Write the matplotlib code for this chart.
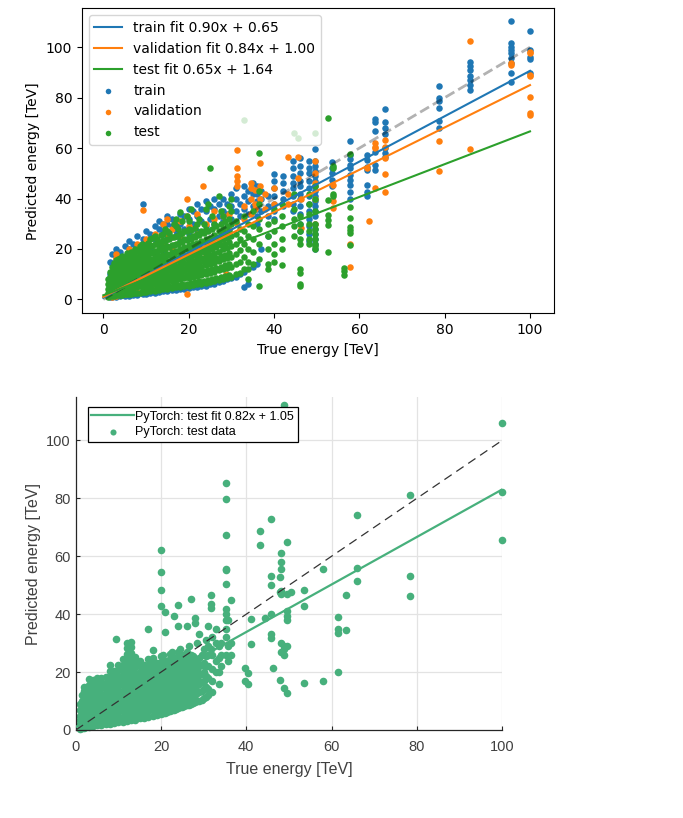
import matplotlib
matplotlib.use("Agg")
import matplotlib.pyplot as plt

# ---------------- top chart data ----------------
train_true = [1.5, 2, 3, 4, 5, 6, 7, 8, 9.3, 10, 11, 12, 13, 14, 15, 16, 17, 18, 19, 20,
              21, 22, 23, 24, 25, 26, 27, 28, 29, 30, 31, 32, 33, 34, 35, 36, 37, 38.5, 40, 42,
              44.5, 46, 48.2, 49.7, 53.5, 57.7, 61.7, 63.7, 66, 78.6, 86, 95.6, 100]
train_pred = [
    [0.8, 5, 10, 15], [0.9, 8, 14, 18], [1, 11, 17, 20], [1.2, 13, 19], [1.3, 10, 16, 21],
    [1.5, 12, 20, 23], [1.7, 15, 22], [1.9, 14, 21, 25], [2.1, 17, 24, 38], [2.3, 12, 23, 27],
    [2.5, 20, 26], [2.7, 15, 24, 29], [3, 22, 28, 31], [3.2, 18, 27, 30], [3.4, 25, 30, 33],
    [3.6, 21, 29, 32], [3.9, 27, 31], [4.1, 24, 30, 34], [4.3, 28, 33], [4.6, 26, 32, 36],
    [4.8, 30, 35], [5, 27, 33, 38], [5.3, 31, 36], [5.5, 29, 35, 39], [6, 32, 37],
    [6.3, 30, 36, 40], [7, 33, 38], [7.5, 31, 35, 40], [8, 34, 38], [8.5, 32, 37, 42],
    [9, 35, 40, 44], [10, 33, 38], [4.9, 11, 36, 41, 45], [6, 34, 39, 43], [13, 37, 42, 46],
    [14, 30, 33, 36, 39, 42, 45], [20, 35, 40, 43], [25, 33, 37, 41],
    [32, 35, 38, 41, 44, 47, 49.6], [37, 40, 43, 46, 49],
    [35, 38, 41, 44, 46, 49, 52, 55], [27, 30, 34, 37, 40, 42, 45, 47, 50, 53, 56],
    [23, 26, 29, 32, 35, 38, 41, 44, 47, 50, 52, 55],
    [20, 22, 24, 26, 28, 30, 33, 35, 37, 39, 41, 43, 45, 47, 49, 51, 53, 55, 59.5],
    [45, 47.5, 50, 52, 54.5], [40, 42.5, 45.5, 47.5, 49.4, 52, 53.3, 55.7, 57.4, 63],
    [41, 42.7, 45.4, 51.3, 52.7, 55.3, 57.3], [51.5, 53.5, 58.5, 66.8, 70.2, 71.5],
    [56.6, 57.9, 60, 65.5, 68.1, 70.5, 75.5], [68.1, 70.8, 76.1, 78.7, 79.8, 84.5],
    [83, 85, 87, 88.6, 91, 92.7, 94.3], [86.1, 89.7, 93.7, 95.6, 97.6, 98.9, 100.3, 101.6, 110.3],
    [89.7, 95.5, 96.1, 98.9, 106.6]]

val_true = [2, 2.9, 3, 4, 5, 6, 8, 9.2, 10, 12, 14, 15, 16, 18, 19.7, 20, 22, 23.3, 24, 26,
            28, 28.8, 29.5, 31.4, 33, 34.5, 35.6, 36.7, 38, 40, 43.4, 45.6, 46.4, 49.7, 53.8,
            57.8, 61.7, 62.3, 63.7, 66, 78.6, 86, 95.6, 100]
val_pred = [
    [1, 6], [16.4], [1.2, 10, 18], [4, 13], [2, 15], [8, 18, 20], [3, 12, 22], [35.3, 20],
    [4, 15, 24], [6, 18, 26], [10, 22, 30], [26, 32], [8, 20, 28], [12, 25, 31], [2.3, 33, 40],
    [16, 29], [14, 26, 34], [45, 20], [18, 30], [22, 32, 35], [24, 33], [9.9], [28, 34],
    [59.1, 52, 49, 47, 45, 30], [32, 37], [34, 40, 44, 46], [43.3, 38, 36], [54.2, 45, 40],
    [36, 42], [38, 44], [56.5, 42, 38], [56.5, 48], [28.2, 40], [55, 50, 46, 40, 30],
    [45.2, 39.2, 36.1], [21.8, 12.8], [52.3], [31], [62, 60.6, 59.9, 44],
    [63.2, 60.6, 56, 49.6, 42.7], [62.8, 50.9], [102.3, 59.6], [93.7, 92.8],
    [98.3, 97.6, 89, 88.5, 80.4, 73.8, 73.1]]

test_true = [1, 1.5, 2, 2.5, 3, 3.5, 4, 4.5, 5, 5.5, 6, 6.5, 7, 7.5, 8, 8.5, 9, 9.5, 10, 10.5,
             11, 11.5, 12, 12.5, 13, 13.5, 14, 14.5, 15, 15.5, 16, 16.5, 17, 17.5, 18, 18.5,
             19, 19.5, 20, 20.5, 21, 21.5, 22, 22.5, 23, 23.5, 24, 24.5, 25, 25.5, 26, 26.5,
             27, 27.5, 28, 28.5, 29, 29.5, 30, 31, 32, 33, 34, 35, 36.5, 38.5, 40, 41.9,
             44.7, 45.6, 46, 48.2, 49.6, 52.7, 53.9, 56.4, 57.7]
test_pred = [
    [1, 2.5, 4, 6, 8], [1.2, 3, 5, 7, 9, 11], [1.3, 2.8, 4.5, 6.5, 8.5, 10.5, 13],
    [1.5, 3.5, 5.5, 7.5, 9.5, 12, 14.5], [1.6, 3.2, 5, 7, 9, 11, 13, 15.5],
    [1.7, 4, 6, 8, 10, 12, 14.2, 16],
    [1.8, 3.6, 5.6, 7.6, 9.8, 12, 14, 16.5], [1.9, 4.5, 6.8, 9, 11, 13, 15.3, 17.2],
    [2, 4, 6, 8, 10, 12.3, 14.5, 17], [2.1, 4.8, 7, 9.2, 11.4, 13.7, 16, 18.3],
    [2.2, 4.2, 6.4, 8.6, 10.8, 13, 15.2, 17.5], [2.3, 5, 7.4, 9.8, 12, 14.3, 16.7, 19],
    [2.4, 4.5, 6.8, 9, 11.2, 13.6, 16, 18.5], [2.5, 5.3, 7.8, 10.2, 12.6, 15, 17.4, 20],
    [2.6, 4.8, 7.2, 9.5, 11.8, 14.2, 16.6, 19.3], [2.7, 5.6, 8.2, 10.8, 13.3, 15.8, 18.2, 21],
    [2.8, 5, 7.5, 10, 12.5, 15, 17.5, 20, 22], [2.9, 6, 8.7, 11.4, 14, 16.5, 19, 21.5],
    [3, 5.4, 8, 10.6, 13.2, 15.8, 18.4, 21], [4, 7, 9.5, 12, 14.5, 17, 19.5, 22.5],
    [3.3, 5.8, 8.4, 11, 13.6, 16.2, 18.8, 21.5, 24], [4.3, 7.2, 10, 12.8, 15.6, 18.4, 21.2, 24.5],
    [3.5, 6, 8.7, 11.4, 14, 16.7, 19.4, 22, 25], [4.5, 7.5, 10.3, 13.2, 16, 18.9, 21.8, 24],
    [3.8, 6.4, 9.1, 11.8, 14.5, 17.2, 19.9, 22.6], [4.8, 7.8, 10.7, 13.6, 16.6, 19.5, 22.4, 25.5],
    [4, 6.7, 9.5, 12.3, 15, 17.8, 20.6, 23.4, 26], [5, 8, 11, 14, 17, 20, 23, 28],
    [4.3, 7, 9.8, 12.6, 15.4, 18.2, 21, 24, 27], [5.3, 8.4, 11.5, 14.6, 17.7, 20.8, 23.9, 26.5],
    [4.5, 7.3, 10.2, 13, 15.9, 18.8, 21.7, 24.6], [5.6, 8.7, 11.8, 15, 18.2, 21.4, 24.6, 30],
    [4.8, 7.6, 10.5, 13.4, 16.3, 19.2, 22.1, 25, 29, 32], [5.8, 9, 12.2, 15.5, 18.8, 22, 25.3, 28],
    [5, 8, 11, 14, 17, 20, 23, 26, 34.7], [6, 9.3, 12.6, 16, 19.4, 22.8, 26.2, 31],
    [5.3, 8.3, 11.4, 14.5, 17.6, 20.7, 23.8, 27], [6.3, 9.6, 13, 16.5, 20, 23.5, 27, 33],
    [5.5, 8.6, 11.8, 15, 18.2, 21.4, 24.6, 28, 31], [6.6, 10, 13.5, 17, 20.5, 24, 27.5, 36],
    [5.8, 9, 12.2, 15.4, 18.6, 21.8, 25], [6.9, 10.4, 14, 17.6, 21.2, 24.8, 28.5],
    [6, 9.3, 12.6, 15.9, 19.2, 22.5, 26, 30], [7.2, 10.8, 14.5, 18.2, 21.9, 25.6, 32],
    [6.3, 9.6, 13, 16.4, 19.8, 23.2, 27], [7.5, 11.2, 15, 18.8, 22.6, 26.4, 30],
    [6.5, 10, 13.5, 17, 20.5, 24, 28, 36], [7.8, 11.6, 15.5, 19.4, 23.3, 27.2, 38],
    [7, 10.5, 14, 17.5, 21, 24.5, 52], [8.1, 12, 16, 20, 24, 28, 33],
    [7.3, 11, 14.6, 18.2, 21.8, 25.4, 30], [8.4, 12.4, 16.5, 20.6, 24.7, 29],
    [7.8, 11.5, 15.2, 19, 22.8, 27, 41], [8.8, 13, 17.2, 21.4, 25.6, 30, 35],
    [8, 12, 16, 20, 24, 28, 33], [9.2, 13.5, 17.8, 22, 26.3, 31],
    [8.5, 12.5, 16.5, 20.5, 24.5, 29], [9.6, 14, 18.4, 22.8, 27.2, 32, 37],
    [9, 13, 17, 21, 25, 30, 35, 40], [10, 14, 18, 22, 26, 31], [10.5, 15, 19.5, 24, 28],
    [12, 17, 22, 27, 33, 71], [8, 12, 15, 20, 25, 30], [14, 19, 24, 29, 35],
    [5.2, 16, 22, 28, 32, 38, 43, 58], [12, 14, 20, 25, 30], [15, 18, 22, 27, 31, 36],
    [13.5, 20, 24, 29, 33, 38], [25, 29, 32, 36, 42, 66], [64],
    [5.5, 6, 10.5, 12, 22, 24, 27, 30, 33], [22, 24, 27, 30, 34, 38, 42],
    [20, 21, 22, 24, 26, 28, 30, 35, 40, 45, 66], [19, 29.5, 31.5, 33.4, 39.5, 71.8],
    [41, 42, 52, 53], [9.6, 11.3, 12.3], [21.6, 26.3, 27.6, 28.9, 32.4, 36.8, 57.5]]

fits_top = [("train", 0.90, 0.65), ("validation", 0.84, 1.00), ("test", 0.65, 1.64)]

# ---------------- bottom chart data ----------------
pt_true = [1, 1.5, 2, 2.5, 3, 4, 5, 6, 7, 8, 9, 9.5, 10, 11, 12, 13, 14, 15, 16, 17, 18, 19,
           20, 20.5, 21, 21.5, 22, 22.5, 23, 23.5, 24, 24.5, 25, 25.5, 26, 26.5, 27, 27.5,
           28, 28.5, 29, 29.5, 30, 30.5, 31, 31.7, 32, 32.8, 33.5, 34, 35.3, 35.8, 36.5,
           39.7, 40.4, 41.2, 43.1, 44.4, 45.8, 46.2, 47.9, 48.1, 48.8, 49.5, 50.4, 53.5,
           57.9, 61.6, 63.5, 66, 78.3, 100]
pt_pred = [
    [0.5, 2, 3.5, 5, 7, 9], [0.7, 2.5, 4.3, 6.1, 8, 10, 12],
    [0.8, 2.6, 4.4, 6.2, 8, 9.8, 11.6, 13.4, 15], [1, 2.8, 4.6, 6.4, 8.2, 10, 11.8, 13.6],
    [1.2, 3, 4.8, 6.6, 8.4, 10.2, 12, 13.8, 15.6, 17.5],
    [1.4, 3.2, 5, 6.8, 8.6, 10.4, 12.2, 14, 15.8, 17.2],
    [1.6, 3.4, 5.2, 7, 8.8, 10.6, 12.4, 14.2, 16, 17.8],
    [1.8, 3.6, 5.4, 7.2, 9, 10.8, 12.6, 14.4, 16.2, 18],
    [2, 3.8, 5.6, 7.4, 9.2, 11, 12.8, 14.6, 16.4, 18.2],
    [2.2, 4, 5.8, 7.6, 9.4, 11.2, 13, 14.8, 16.6, 18.4, 20.5, 22.5],
    [2.4, 4.2, 6, 7.8, 9.6, 11.4, 13.2, 15, 16.8, 18.6, 20.4], [31.5],
    [2.6, 4.4, 6.2, 8, 9.8, 11.6, 13.4, 15.2, 17, 18.8, 20.6, 22.4],
    [2.8, 4.6, 6.4, 8.2, 10, 11.8, 13.6, 15.4, 17.2, 19, 20.8, 22.6, 24.4],
    [3, 4.8, 6.6, 8.4, 10.2, 12, 13.8, 15.6, 17.4, 19.2, 21, 22.8, 24.6, 26.4, 28.2, 30],
    [3.3, 5.1, 6.9, 8.7, 10.5, 12.3, 14.1, 15.9, 17.7, 19.5, 21.3, 23.1, 24.9, 26.7, 28.5, 30.3],
    [3.6, 5.4, 7.2, 9, 10.8, 12.6, 14.4, 16.2, 18, 19.8, 21.6, 23.4, 25.2],
    [4, 5.8, 7.6, 9.4, 11.2, 13, 14.8, 16.6, 18.4, 20.2, 22, 24],
    [4.3, 6.1, 7.9, 9.7, 11.5, 13.3, 15.1, 16.9, 18.7, 20.5, 22.3],
    [4.6, 6.4, 8.2, 10, 11.8, 13.6, 15.4, 17.2, 19, 20.8, 22.6, 24.4, 35],
    [5, 6.8, 8.6, 10.4, 12.2, 14, 15.8, 17.6, 19.4, 21.2, 23, 25, 27.8],
    [5.3, 7.1, 8.9, 10.7, 12.5, 14.3, 16.1, 17.9, 19.7, 21.5, 23.3],
    [5.6, 7.4, 9.2, 11, 12.8, 14.6, 16.4, 18.2, 20, 21.8, 23.6, 25.4, 42.8, 48.5, 54.7, 62.1],
    [6, 8.5, 11, 13.5, 16, 18.5, 21, 23.5, 26],
    [6, 7.8, 9.6, 11.4, 13.2, 15, 16.8, 18.6, 20.4, 22.2, 24, 34, 40.8],
    [6.3, 8.8, 11.3, 13.8, 16.3, 18.8, 21.3, 23.8],
    [6.5, 8.3, 10.1, 11.9, 13.7, 15.5, 17.3, 19.1, 20.9, 22.7, 24.5, 26.3],
    [6.8, 9.3, 11.8, 14.3, 16.8, 19.3, 21.8, 24.3, 27],
    [7, 8.8, 10.6, 12.4, 14.2, 16, 17.8, 19.6, 21.4, 23.2, 25, 39.5],
    [7.3, 9.8, 12.3, 14.8, 17.3, 19.8, 22.3, 24.8],
    [7.5, 9.5, 11.5, 13.5, 15.5, 17.5, 19.5, 21.5, 23.5, 25.5, 27, 36, 43],
    [7.8, 10.3, 12.8, 15.3, 17.8, 20.3, 22.8, 25.3, 28],
    [8, 10, 12, 14, 16, 18, 20, 22, 24, 26],
    [8.3, 10.8, 13.3, 15.8, 18.3, 20.8, 23.3, 26],
    [8.5, 10.5, 12.5, 14.5, 17, 19.5, 22, 24.5, 27, 35.9],
    [8.8, 11.3, 13.8, 16.3, 18.8, 21.3, 23.8, 29],
    [9, 11, 13.5, 16, 18.5, 21, 23.5, 26, 45.2],
    [9.3, 12, 14.7, 17.4, 20.1, 22.8, 25.5],
    [9.5, 12, 14.5, 17, 19.5, 22, 24.5, 37.1, 38.6],
    [10, 12.7, 15.4, 18.1, 20.8, 23.5, 30],
    [10, 13, 16, 19, 22, 25, 33],
    [10.5, 13.5, 16.5, 19.5, 22.5, 26],
    [11, 14, 17, 20, 23, 28],
    [11.5, 15, 18.5, 22, 25.5, 31],
    [12, 14, 18, 22, 26, 29, 36], [46.6, 43.5, 42, 28],
    [13, 17, 21, 26, 32],
    [34.9, 30, 24, 20], [16, 20, 25, 29], [22, 26, 30],
    [85.2, 79.7, 67.5, 55.7, 55.2, 50.3, 41.9, 40, 38, 35, 32, 26], [38.1, 28.9, 24],
    [45, 30, 26], [21.5, 16.8], [19.8, 16], [38.5, 29.7], [68.7, 64], [38.6],
    [73, 53.2, 50, 40, 33, 31.8], [21.3], [17.3, 53, 47.5], [61, 58, 55.7, 48, 47, 27, 30],
    [112.4, 28, 26, 29, 14.4], [65, 47, 41, 39.5, 38, 12.9, 29], [47.7], [48.5, 42.8, 16.3],
    [55.6, 16.8], [39.1, 35, 33.6, 19.9], [46.6, 34.5], [74.4, 56, 51.4], [81, 53.3, 46.3],
    [106.2, 82.2, 65.6]]

fit_bottom = (0.82, 1.05)


def flatten(xs, cols):
    fx, fy = [], []
    for x, ys in zip(xs, cols):
        for y in ys:
            fx.append(x)
            fy.append(y)
    return fx, fy


fig = plt.figure(figsize=(6.83, 8.18), dpi=100)

# ---------------- top chart ----------------
plt.rcParams['font.family'] = ['DejaVu Sans']
ax1 = fig.add_axes([0.120, 0.617, 0.691, 0.373])
colors = ['#1f77b4', '#ff7f0e', '#2ca02c']
series = [("train", train_true, train_pred), ("validation", val_true, val_pred),
          ("test", test_true, test_pred)]
line_handles = []
scat_handles = []
for (name, xs, cols), c in zip(series, colors):
    fx, fy = flatten(xs, cols)
    scat_handles.append(ax1.scatter(fx, fy, s=22, color=c, label=name, zorder=2, linewidths=0))
ax1.plot([0, 100], [0, 100], '--', color='black', alpha=0.3, lw=2, zorder=3)
for (name, m, b), c in zip(fits_top, colors):
    h, = ax1.plot([0, 100], [b, m * 100 + b], color=c, lw=1.5, zorder=4,
                  label=f"{name} fit {m:.2f}x + {b:.2f}")
    line_handles.append(h)
ax1.set_xlim(-5, 105.6)
ax1.set_ylim(-5.5, 115.5)
ax1.set_xticks([0, 20, 40, 60, 80, 100])
ax1.set_yticks([0, 20, 40, 60, 80, 100])
ax1.tick_params(labelsize=10)
ax1.set_xlabel("True energy [TeV]", fontsize=10)
ax1.set_ylabel("Predicted energy [TeV]", fontsize=10)
ax1.legend(handles=line_handles + scat_handles, loc='upper left', fontsize=10,
           scatterpoints=1, markerscale=0.85)

# ---------------- bottom chart ----------------
green = '#47b07c'
txtc = '#404040'
ax2 = fig.add_axes([0.111, 0.1076, 0.624, 0.407])
fx, fy = flatten(pt_true, pt_pred)
sc = ax2.scatter(fx, fy, s=30, color=green, linewidths=0, zorder=2, clip_on=False,
                 label="PyTorch: test data")
m, b = fit_bottom
ln, = ax2.plot([0, 100], [b, m * 100 + b], color=green, lw=1.6, zorder=3,
               label=f"PyTorch: test fit {m:.2f}x + {b:.2f}")
ax2.plot([0, 100], [0, 100], color='#333333', lw=0.9, dashes=(7, 4.5), zorder=4)
ax2.set_xlim(0, 100)
ax2.set_ylim(0, 115)
ax2.set_xticks([0, 20, 40, 60, 80, 100])
ax2.set_yticks([0, 20, 40, 60, 80, 100])
for yv in [20, 40, 60, 80, 100]:
    ax2.plot([0, 100], [yv, yv], color='#e3e3e3', lw=0.9, zorder=0)
for xv in [20, 40, 60, 80, 100]:
    ax2.axvline(xv, color='#e3e3e3', lw=0.9, zorder=0)
for side in ['top', 'right']:
    ax2.spines[side].set_visible(False)
for side in ['left', 'bottom']:
    ax2.spines[side].set_color('#262626')
    ax2.spines[side].set_linewidth(0.9)
ax2.tick_params(direction='in', length=3, width=0.8, colors='#262626',
                labelcolor=txtc, labelsize=10.5)
ax2.tick_params(axis='x', pad=7)
for lab in ax2.get_xticklabels() + ax2.get_yticklabels():
    lab.set_family('Liberation Sans')
ax2.set_xlabel("True energy [TeV]", fontsize=11.5, color=txtc, family='Liberation Sans',
               labelpad=6)
ax2.set_ylabel("Predicted energy [TeV]", fontsize=11.5, color=txtc, family='Liberation Sans')
leg = ax2.legend(handles=[ln, sc], loc='upper left', bbox_to_anchor=(0.028, 0.97),
                 borderaxespad=0, fancybox=False, framealpha=1, edgecolor='black',
                 prop={'family': 'Liberation Sans', 'size': 9}, handlelength=3.4,
                 handletextpad=0.1, scatterpoints=1, borderpad=0.3, labelspacing=0.25,
                 markerscale=0.8)
leg.get_frame().set_linewidth(0.9)

fig.savefig("out.png", dpi=100)
